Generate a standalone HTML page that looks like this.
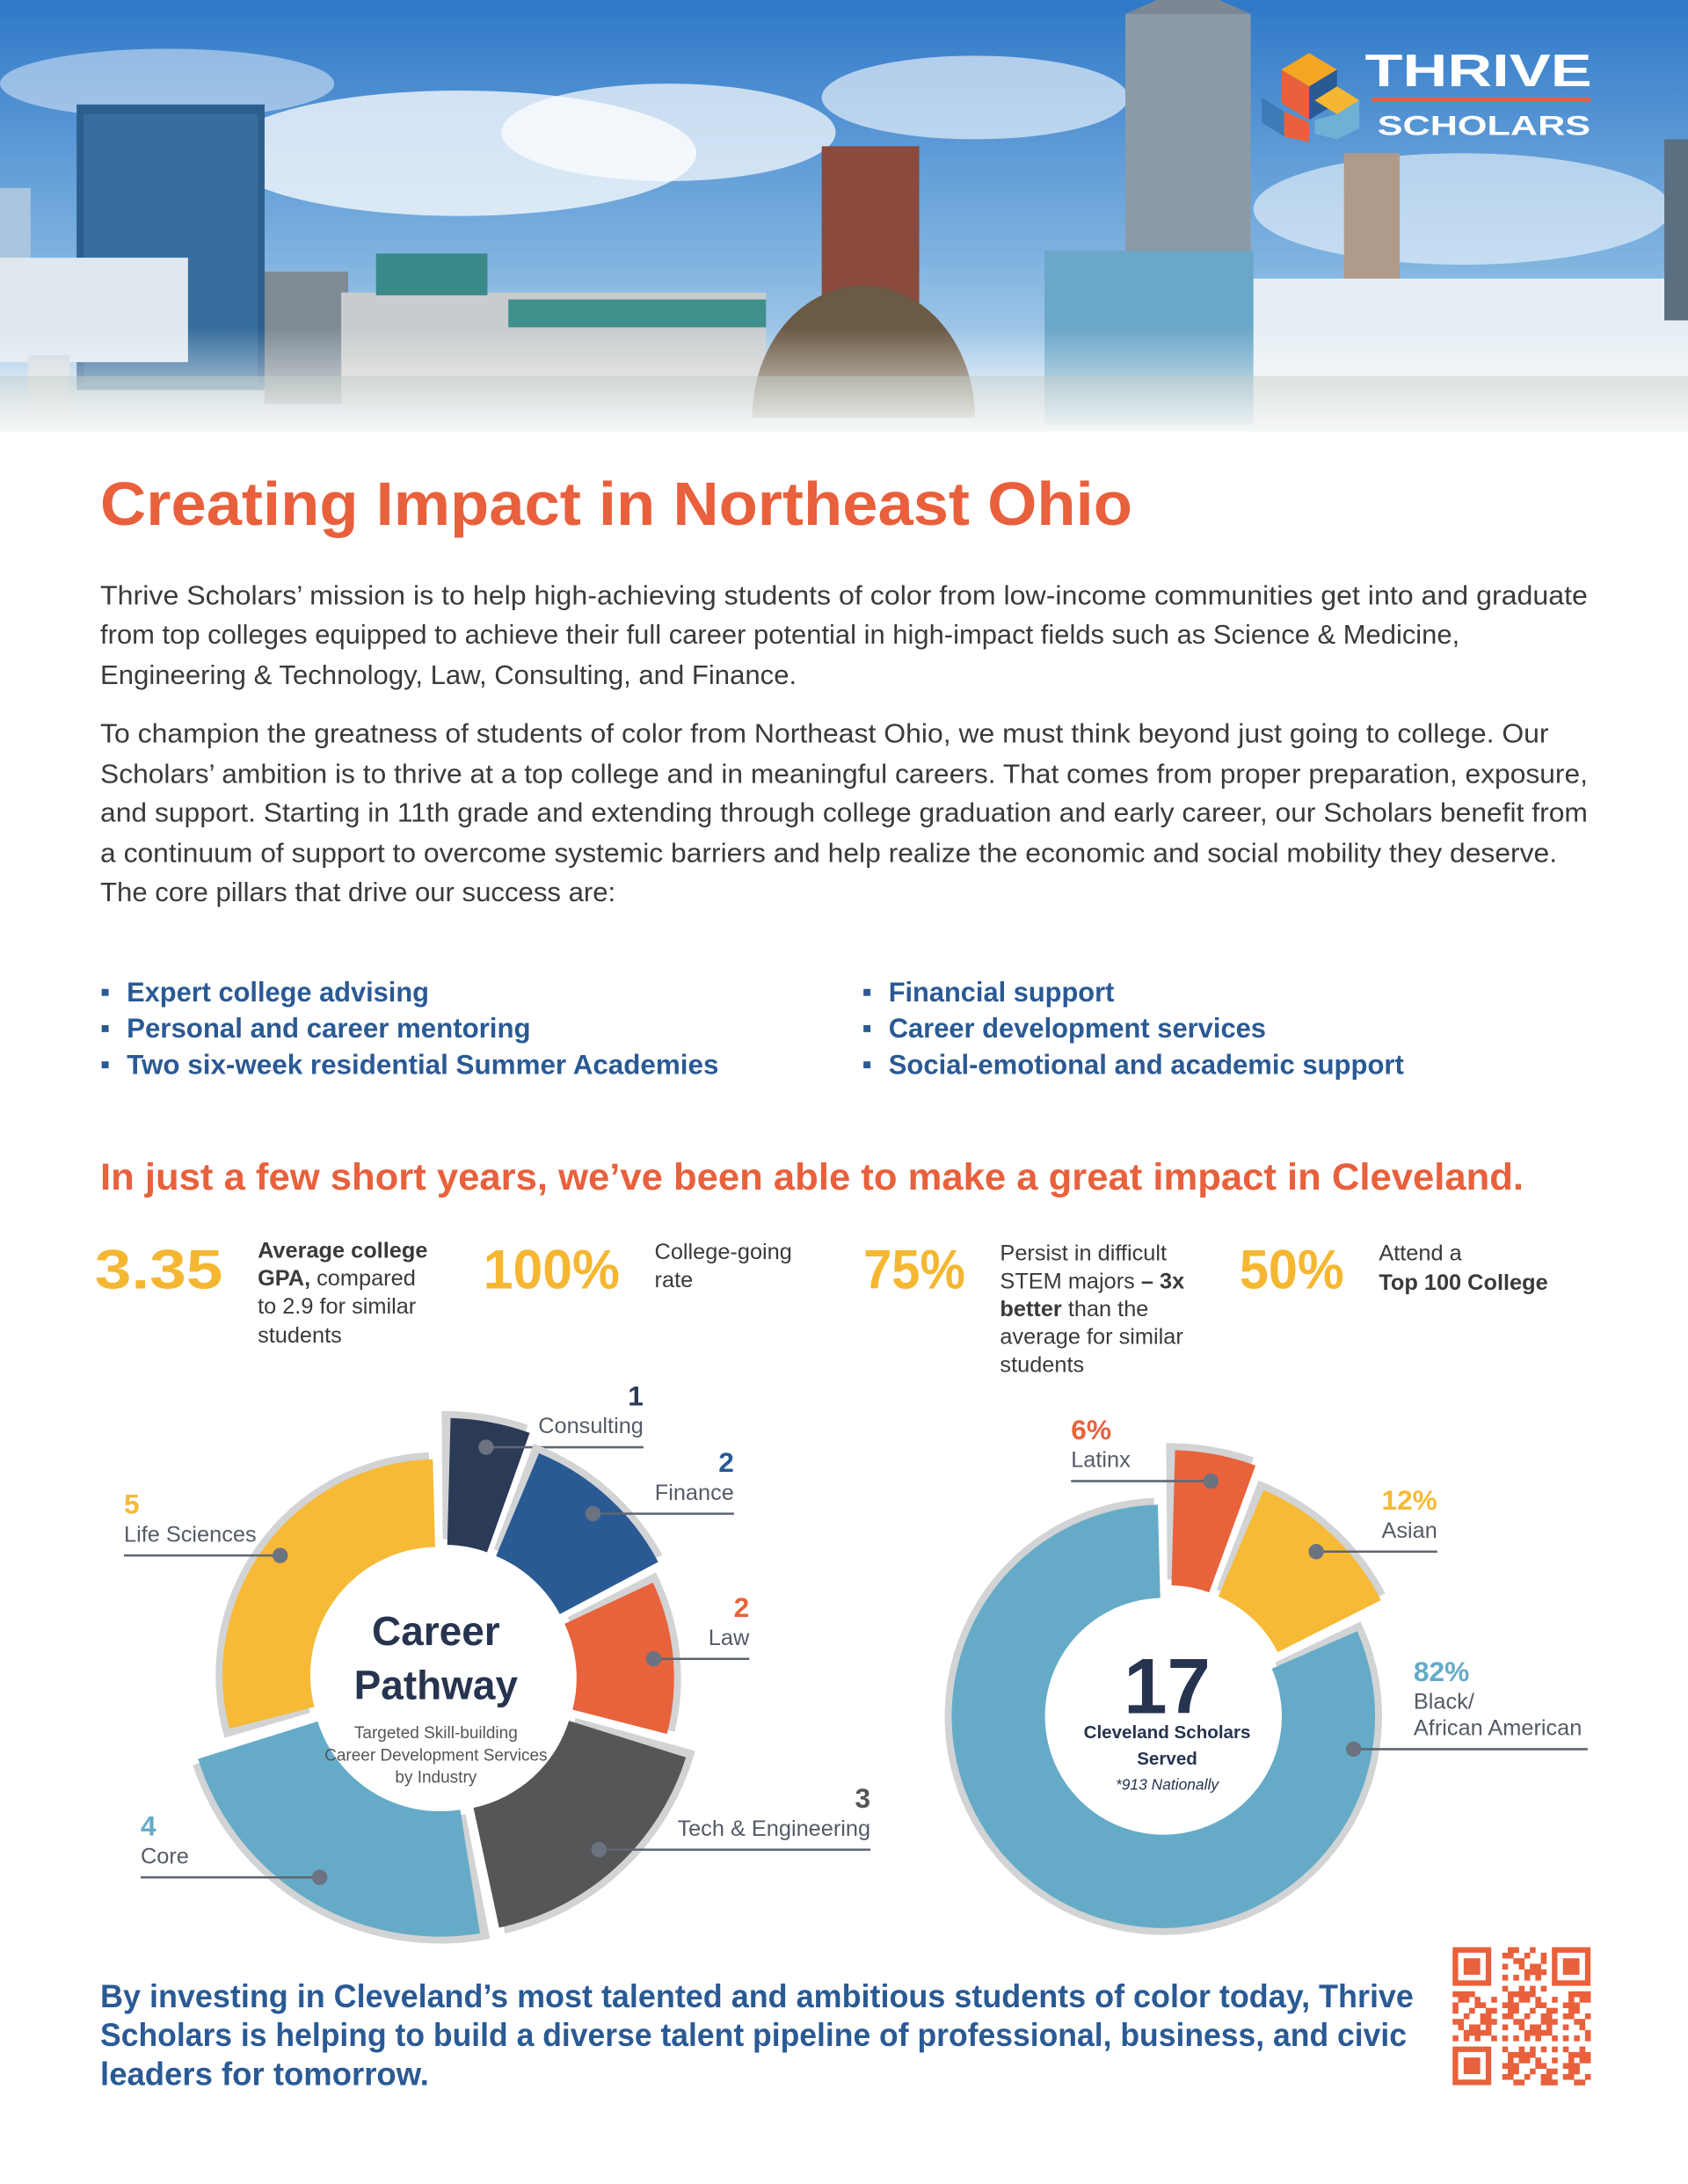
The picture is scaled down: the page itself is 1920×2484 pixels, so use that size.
<!DOCTYPE html>
<html><head><meta charset="utf-8"><style>
html,body{margin:0;padding:0;background:#fff;}
svg{display:block;font-family:"Liberation Sans",sans-serif;}
</style></head><body>
<svg id="page" width="1920" height="2484" viewBox="0 0 1212 1568" xmlns="http://www.w3.org/2000/svg">
<defs>
<linearGradient id="sky" x1="0" y1="0" x2="0" y2="1"><stop offset="0" stop-color="#2f78c8"/><stop offset="0.6" stop-color="#7fb3e0"/><stop offset="1" stop-color="#c9dff0"/></linearGradient>
<linearGradient id="fade" x1="0" y1="0" x2="0" y2="1"><stop offset="0" stop-color="#fff" stop-opacity="0"/><stop offset="1" stop-color="#fff" stop-opacity="1"/></linearGradient>
</defs>
<g>
<rect x="0" y="0" width="1212" height="310" fill="url(#sky)"/>
<ellipse cx="330" cy="110" rx="170" ry="45" fill="#fff" opacity="0.75"/>
<ellipse cx="480" cy="95" rx="120" ry="35" fill="#fff" opacity="0.7"/>
<ellipse cx="700" cy="70" rx="110" ry="30" fill="#fff" opacity="0.6"/>
<ellipse cx="1050" cy="150" rx="150" ry="40" fill="#fff" opacity="0.55"/>
<ellipse cx="120" cy="60" rx="120" ry="25" fill="#fff" opacity="0.45"/>
<rect x="0" y="135" width="22" height="70" fill="#a9c6de"/>
<rect x="55" y="75" width="135" height="205" fill="#2c5f8e"/>
<rect x="60" y="82" width="125" height="195" fill="#3f78a8" opacity="0.6"/>
<rect x="0" y="185" width="135" height="75" fill="#dfe8ee"/>
<rect x="20" y="255" width="30" height="50" fill="#cfd8de"/>
<rect x="190" y="195" width="60" height="95" fill="#7e8b95"/>
<rect x="245" y="210" width="305" height="80" fill="#c9ccce"/>
<rect x="270" y="182" width="80" height="30" fill="#3a8a8a"/>
<rect x="365" y="215" width="185" height="20" fill="#3f8f8c"/>
<rect x="590" y="105" width="70" height="120" fill="#8a4a3e"/>
<path d="M540,300 A80,95 0 0 1 700,300 Z" fill="#6b5a45"/>
<rect x="808" y="10" width="90" height="290" fill="#8c9aa6"/>
<polygon points="808,10 853,-10 898,10" fill="#7b8894"/>
<rect x="750" y="180" width="150" height="125" fill="#6aa7c8"/>
<rect x="965" y="110" width="40" height="95" fill="#b09a8a"/>
<rect x="900" y="200" width="312" height="105" fill="#e6eef3"/>
<rect x="1195" y="100" width="17" height="130" fill="#5a6f80"/>
<rect x="0" y="270" width="1212" height="40" fill="#9aa9a0" opacity="0.5"/>
<rect x="0" y="235" width="1212" height="85" fill="url(#fade)"/>
</g>
<g>
<polygon points="940,38 960,50 940,62 920,50" fill="#f5a623"/>
<polygon points="920,50 940,62 940,86 920,74" fill="#e8603c"/>
<polygon points="940,62 960,50 960,74 940,86" fill="#2a5a94"/>
<polygon points="960,62 976,72 960,82 944,72" fill="#f5b731"/>
<polygon points="906,70 922,80 922,98 906,88" fill="#3d7ab8"/>
<polygon points="922,80 940,88 940,102 922,98" fill="#e8603c"/>
<polygon points="944,86 960,82 976,72 976,92 960,100 944,96" fill="#6fb0d6"/>
<text x="980" y="62" font-size="33" font-weight="bold" fill="#fff" textLength="163" lengthAdjust="spacingAndGlyphs">THRIVE</text>
<rect x="985" y="70" width="157" height="3" fill="#e8603c"/>
<text x="989" y="97" font-size="20" font-weight="bold" fill="#fff" textLength="153" lengthAdjust="spacingAndGlyphs">SCHOLARS</text>
</g>
<text x="72" y="377" font-size="44" font-weight="bold" fill="#e8603c" textLength="741" lengthAdjust="spacingAndGlyphs">Creating Impact in Northeast Ohio</text>
<g font-size="19.5" fill="#3a3a3a">
<text x="72" y="434" textLength="1068" lengthAdjust="spacingAndGlyphs">Thrive Scholars’ mission is to help high-achieving students of color from low-income communities get into and graduate</text>
<text x="72" y="462" textLength="976" lengthAdjust="spacingAndGlyphs">from top colleges equipped to achieve their full career potential in high-impact fields such as Science &amp; Medicine,</text>
<text x="72" y="491" textLength="500" lengthAdjust="spacingAndGlyphs">Engineering &amp; Technology, Law, Consulting, and Finance.</text>
</g>
<g font-size="19.5" fill="#3a3a3a">
<text x="72" y="533" textLength="1040" lengthAdjust="spacingAndGlyphs">To champion the greatness of students of color from Northeast Ohio, we must think beyond just going to college. Our</text>
<text x="72" y="562" textLength="1068" lengthAdjust="spacingAndGlyphs">Scholars’ ambition is to thrive at a top college and in meaningful careers. That comes from proper preparation, exposure,</text>
<text x="72" y="590" textLength="1068" lengthAdjust="spacingAndGlyphs">and support. Starting in 11th grade and extending through college graduation and early career, our Scholars benefit from</text>
<text x="72" y="619" textLength="1046" lengthAdjust="spacingAndGlyphs">a continuum of support to overcome systemic barriers and help realize the economic and social mobility they deserve.</text>
<text x="72" y="647" textLength="370" lengthAdjust="spacingAndGlyphs">The core pillars that drive our success are:</text>
</g>
<g font-size="20" font-weight="bold" fill="#2a5a94">
<rect x="73" y="710" width="5" height="5"/><text x="91" y="719" textLength="217" lengthAdjust="spacingAndGlyphs">Expert college advising</text>
<rect x="73" y="736" width="5" height="5"/><text x="91" y="745" textLength="290" lengthAdjust="spacingAndGlyphs">Personal and career mentoring</text>
<rect x="73" y="762" width="5" height="5"/><text x="91" y="771" textLength="425" lengthAdjust="spacingAndGlyphs">Two six-week residential Summer Academies</text>
<rect x="620" y="710" width="5" height="5"/><text x="638" y="719" textLength="162" lengthAdjust="spacingAndGlyphs">Financial support</text>
<rect x="620" y="736" width="5" height="5"/><text x="638" y="745" textLength="271" lengthAdjust="spacingAndGlyphs">Career development services</text>
<rect x="620" y="762" width="5" height="5"/><text x="638" y="771" textLength="370" lengthAdjust="spacingAndGlyphs">Social-emotional and academic support</text>
</g>
<text x="72" y="854" font-size="27" font-weight="bold" fill="#e8603c" textLength="1022" lengthAdjust="spacingAndGlyphs">In just a few short years, we’ve been able to make a great impact in Cleveland.</text>
<g>
<g font-size="40" font-weight="bold" fill="#f5b731">
<text x="68" y="925" textLength="92" lengthAdjust="spacingAndGlyphs">3.35</text>
<text x="347" y="925" textLength="98" lengthAdjust="spacingAndGlyphs">100%</text>
<text x="620" y="925" textLength="73" lengthAdjust="spacingAndGlyphs">75%</text>
<text x="890" y="925" textLength="75" lengthAdjust="spacingAndGlyphs">50%</text>
</g>
<g font-size="16" fill="#3a3a3a">
<text x="185" y="903" font-weight="bold">Average college</text>
<text x="185" y="923"><tspan font-weight="bold">GPA,</tspan> compared</text>
<text x="185" y="943">to 2.9 for similar</text>
<text x="185" y="964">students</text>
<text x="470" y="904">College-going</text>
<text x="470" y="924">rate</text>
<text x="718" y="905">Persist in difficult</text>
<text x="718" y="925">STEM majors <tspan font-weight="bold">– 3x</tspan></text>
<text x="718" y="945"><tspan font-weight="bold">better</tspan> than the</text>
<text x="718" y="965">average for similar</text>
<text x="718" y="985">students</text>
<text x="990" y="905">Attend a</text>
<text x="990" y="926" font-weight="bold">Top 100 College</text>
</g>
</g>
<g id="career-chart"></g>
<g text-anchor="middle">
<text x="313" y="1181" font-size="29" font-weight="bold" fill="#27344f">Career</text>
<text x="313" y="1220" font-size="29" font-weight="bold" fill="#27344f">Pathway</text>
<text x="313" y="1248" font-size="12" fill="#555">Targeted Skill-building</text>
<text x="313" y="1264" font-size="12" fill="#555">Career Development Services</text>
<text x="313" y="1280" font-size="12" fill="#555">by Industry</text>
</g>
<g id="demo-chart"></g>
<g text-anchor="middle" fill="#27344f">
<text x="838" y="1230" font-size="56" font-weight="bold">17</text>
<text x="838" y="1248" font-size="13" font-weight="bold">Cleveland Scholars</text>
<text x="838" y="1267" font-size="13" font-weight="bold">Served</text>
<text x="838" y="1285" font-size="11" font-style="italic">*913 Nationally</text>
</g>
<g font-size="23.5" font-weight="bold" fill="#2a5a94">
<text x="72" y="1441" textLength="943" lengthAdjust="spacingAndGlyphs">By investing in Cleveland’s most talented and ambitious students of color today, Thrive</text>
<text x="72" y="1469" textLength="938" lengthAdjust="spacingAndGlyphs">Scholars is helping to build a diverse talent pipeline of professional, business, and civic</text>
<text x="72" y="1497" textLength="236" lengthAdjust="spacingAndGlyphs">leaders for tomorrow.</text>
</g>
<g id="qr"></g>
</svg>
<script>
const careerCategories = ['Consulting','Finance','Law','Tech & Engineering','Core','Life Sciences'];
const careerValues = [1,2,2,3,4,5];
const demoCategories = ['Latinx','Asian','Black/African American'];
const demoLabelLines = [['Latinx'],['Asian'],['Black/','African American']];
const demoValues = [6,12,82];

const NS = 'http://www.w3.org/2000/svg';
function mk(tag, attrs, parent){const e=document.createElementNS(NS,tag);for(const k in attrs)e.setAttribute(k,attrs[k]);parent.appendChild(e);return e;}
function pt(cx,cy,r,a){const t=a*Math.PI/180;return [cx+r*Math.sin(t),cy-r*Math.cos(t)];}
function sector(cx,cy,r0,r1,a0,a1){
  const p1=pt(cx,cy,r1,a0),p2=pt(cx,cy,r1,a1),p3=pt(cx,cy,r0,a1),p4=pt(cx,cy,r0,a0);
  const lg=(a1-a0)>180?1:0;
  return `M${p1[0]},${p1[1]} A${r1},${r1} 0 ${lg} 1 ${p2[0]},${p2[1]} L${p3[0]},${p3[1]} A${r0},${r0} 0 ${lg} 0 ${p4[0]},${p4[1]} Z`;
}
function donut(g, values, cats, opt){
  const total=values.reduce((a,b)=>a+b,0);
  let acc=0;
  values.forEach((v,i)=>{
    const a0=acc/total*360, a1=(acc+v)/total*360; acc+=v;
    const mid=(a0+a1)/2;
    const dotA=(a1-a0)>180 ? a0+35 : mid;
    const off=pt(0,0,opt.explode,mid);
    const cx=opt.cx+off[0], cy=opt.cy+off[1];
    const r1=opt.outer[i];
    const sh=mk('path',{d:sector(cx,cy,opt.inner+4,r1+5,a0+opt.gap-2,a1-opt.gap-1),fill:'#d1d3d4'},g);
    
    
    const s=mk('path',{d:sector(cx,cy,opt.inner,r1,a0+opt.gap,a1-opt.gap),fill:opt.colors[i]},g);
    
    
    const d=pt(cx,cy,opt.inner+(r1-opt.inner)*opt.dotFrac,dotA);
    const lx=opt.labelX[i];
    const ln=mk('line',{x1:d[0],y1:d[1],x2:lx,y2:d[1],stroke:'#5f6670','stroke-width':1.6},g);
    
    
    const dot=mk('circle',{cx:d[0],cy:d[1],r:5.5,fill:'#6b7280'},g);
    
    
    const tx=opt.textX[i];
    const lines=opt.lines(i);
    const anchor=opt.align[i];
    let y=d[1]-10;
    for(let k=lines.length-1;k>=0;k--){
      const t=mk('text',{x:tx,y:y,'font-size':16,fill:'#555b66','text-anchor':anchor},g);
      t.textContent=lines[k];
      
      
      y-=19;
    }
    const n=mk('text',{x:tx,y:y-1,'font-size':20,'font-weight':'bold',fill:opt.numColors[i],'text-anchor':anchor},g);
    n.textContent=opt.valueText(v);
    
    
  });
}
donut(document.getElementById('career-chart'), careerValues, careerCategories, {
  cx:318, cy:1205, inner:92, outer:[183,172,162,180,182,155], explode:4, gap:1.5, dotFrac:0.8,
  colors:['#2b3a55','#2a5a94','#e8623c','#545658','#65abc8','#f6ba36'],
  numColors:['#2b3a55','#2a5a94','#e8623c','#545658','#65abc8','#f6ba36'],
  labelX:[462,527,538,625,101,89], textX:[462,527,538,625,101,89],
  align:['end','end','end','end','start','start'],
  lines:i=>[careerCategories[i]], valueText:v=>String(v)
});
donut(document.getElementById('demo-chart'), demoValues, demoCategories, {
  cx:838, cy:1228, inner:85, outer:[182,168,152], explode:5, gap:1.5, dotFrac:0.8,
  colors:['#e8623c','#f6ba36','#65abc8'],
  numColors:['#e8623c','#f6ba36','#65abc8'],
  labelX:[769,1032,1140], textX:[769,1032,1015],
  align:['start','end','start'],
  lines:i=>demoLabelLines[i], valueText:v=>v+'%'
});
(function(){
  const g=document.getElementById('qr');const x0=1043,y0=1398,n=25,s=99/n;
  function finder(cx,cy){
    mk('rect',{x:x0+cx*s,y:y0+cy*s,width:7*s,height:7*s,fill:'#e8603c'},g);
    mk('rect',{x:x0+(cx+1)*s,y:y0+(cy+1)*s,width:5*s,height:5*s,fill:'#fff'},g);
    mk('rect',{x:x0+(cx+2)*s,y:y0+(cy+2)*s,width:3*s,height:3*s,fill:'#e8603c'},g);
  }
  for(let r=0;r<n;r++)for(let c=0;c<n;c++){
    if((r<8&&c<8)||(r<8&&c>=n-8)||(r>=n-8&&c<8))continue;
    const h=((r*73+c*151+r*c*17)%11);
    if(h<5)mk('rect',{x:x0+c*s,y:y0+r*s,width:s+0.2,height:s+0.2,fill:'#e8603c'},g);
  }
  finder(0,0);finder(n-7,0);finder(0,n-7);
})();
</script>
</body></html>
